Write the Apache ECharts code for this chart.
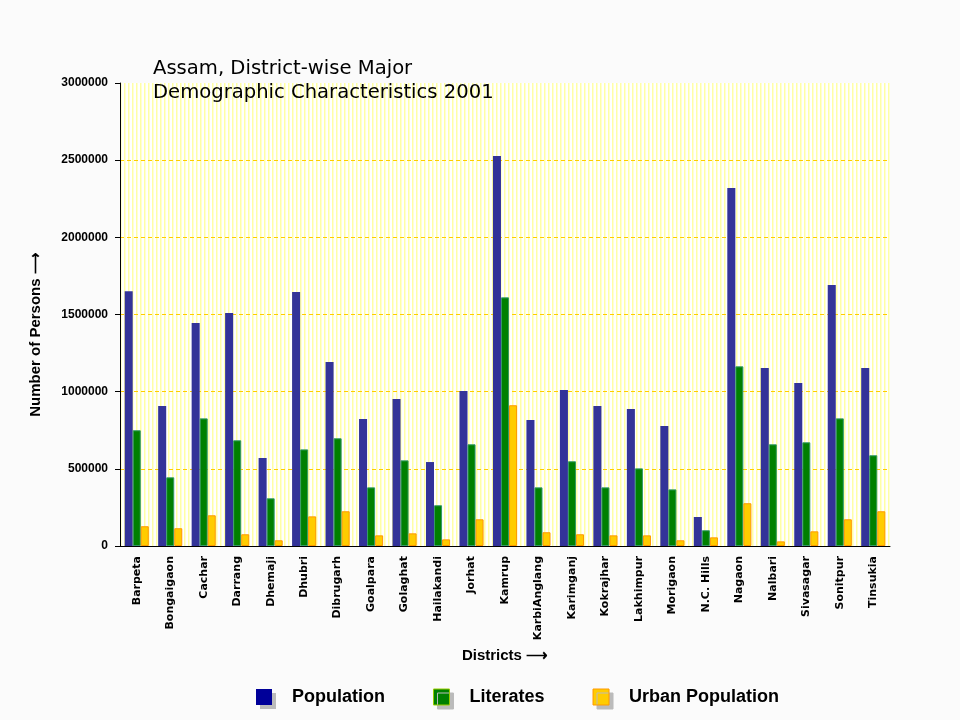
<!DOCTYPE html>
<html>
<head>
<meta charset="utf-8">
<script src="https://cdn.jsdelivr.net/npm/echarts@6/dist/echarts.min.js"></script>
<style>
html,body{margin:0;padding:0;background:#fbfbfb;}
#chart{width:960px;height:720px;}
</style>
</head>
<body>
<div id="chart"></div>
<script>
const districts = ['Barpeta','Bongaigaon','Cachar','Darrang','Dhemaji','Dhubri','Dibrugarh','Goalpara','Golaghat','Hailakandi','Jorhat','Kamrup','KarbiAnglang','Karimganj','Kokrajhar','Lakhimpur','Morigaon','N.C. Hills','Nagaon','Nalbari','Sivasagar','Sonitpur','Tinsukia'];
const population = [1650000,907000,1445000,1510000,570000,1646000,1192000,823000,952000,544000,1004000,2527000,816000,1011000,907000,888000,777000,188000,2319000,1153000,1056000,1691000,1153000];
const literates = [750000,445000,827000,685000,309000,626000,698000,380000,555000,264000,659000,1611000,380000,549000,380000,503000,367000,102000,1164000,659000,672000,827000,588000];
const urbanPopulation = [128000,115000,199000,76000,37000,192000,225000,69000,82000,43000,173000,912000,89000,76000,69000,69000,37000,56000,277000,30000,95000,173000,225000];
const yTicks = {min:0, max:3000000, interval:500000};

// striped plot background
const stripe = document.createElement('canvas');
stripe.width = 4; stripe.height = 4;
const sctx = stripe.getContext('2d');
sctx.fillStyle = '#ffffff'; sctx.fillRect(0,0,4,4);
sctx.fillStyle = '#ffffa6'; sctx.fillRect(0,0,1.5,4);

const chart = echarts.init(document.getElementById('chart'));
chart.setOption({
  backgroundColor:'#fbfbfb',
  animation:false,
  title:{
    text:'Assam, District-wise Major\nDemographic Characteristics 2001',
    left:148, top:52,
    textStyle:{fontFamily:'DejaVu Sans', fontSize:19.6, fontWeight:'normal', color:'#000', lineHeight:24}
  },
  legend:{
    left:251, top:683,
    itemWidth:16, itemHeight:16, itemGap:48,
    icon:'rect',
    textStyle:{fontFamily:'Liberation Sans', fontSize:18, fontWeight:'bold', color:'#000', padding:[0,0,0,15]},
    data:[
      {name:'Population', itemStyle:{color:'#000099', borderWidth:0, shadowColor:'#bbbbbb', shadowOffsetX:4, shadowOffsetY:4, shadowBlur:0}},
      {name:'Literates', itemStyle:{color:'#008000', borderColor:'#99cc00', borderWidth:1, shadowColor:'#bbbbbb', shadowOffsetX:4, shadowOffsetY:4, shadowBlur:0}},
      {name:'Urban Population', itemStyle:{color:'#ffcc00', borderColor:'#ff9900', borderWidth:1, shadowColor:'#bbbbbb', shadowOffsetX:4, shadowOffsetY:4, shadowBlur:0}}
    ]
  },
  grid:{left:120, right:70, top:83, bottom:174, show:true, backgroundColor:{image:stripe, repeat:'repeat'}, borderWidth:0},
  xAxis:{
    type:'category', data:districts,
    name:'Districts \u27F6', nameLocation:'middle', nameGap:100,
    nameTextStyle:{fontFamily:'Liberation Sans', fontSize:15, fontWeight:'bold', color:'#000'},
    axisLine:{lineStyle:{color:'#000', width:1}},
    axisTick:{length:5, lineStyle:{color:'#000'}},
    axisLabel:{rotate:90, margin:10, interval:0, fontFamily:'DejaVu Sans', fontSize:11, fontWeight:'bold', color:'#000'}
  },
  yAxis:{
    type:'value', min:yTicks.min, max:yTicks.max, interval:yTicks.interval,
    name:'Number of Persons \u27F6', nameLocation:'middle', nameGap:77, nameRotate:90,
    nameTextStyle:{fontFamily:'Liberation Sans', fontSize:15, fontWeight:'bold', color:'#000', padding:[0,40,0,0]},
    axisLine:{show:true, lineStyle:{color:'#000', width:1}},
    axisTick:{show:true, length:5, lineStyle:{color:'#000'}},
    axisLabel:{margin:12, fontFamily:'Liberation Sans', fontSize:12, fontWeight:'bold', color:'#000', formatter:function(v){return String(v);}},
    splitLine:{show:true, showMaxLine:false, lineStyle:{color:'#ffcc00', type:[4,3], width:1}}
  },
  series:[
    {name:'Population', type:'bar', data:population, barGap:'0%', barCategoryGap:'28%',
     itemStyle:{color:'#333399'}},
    {name:'Literates', type:'bar', data:literates,
     itemStyle:{color:'#008000', borderColor:'#339966', borderWidth:1}},
    {name:'Urban Population', type:'bar', data:urbanPopulation,
     itemStyle:{color:'#ffcc00', borderColor:'#ff9900', borderWidth:1}}
  ]
});
</script>
</body>
</html>
